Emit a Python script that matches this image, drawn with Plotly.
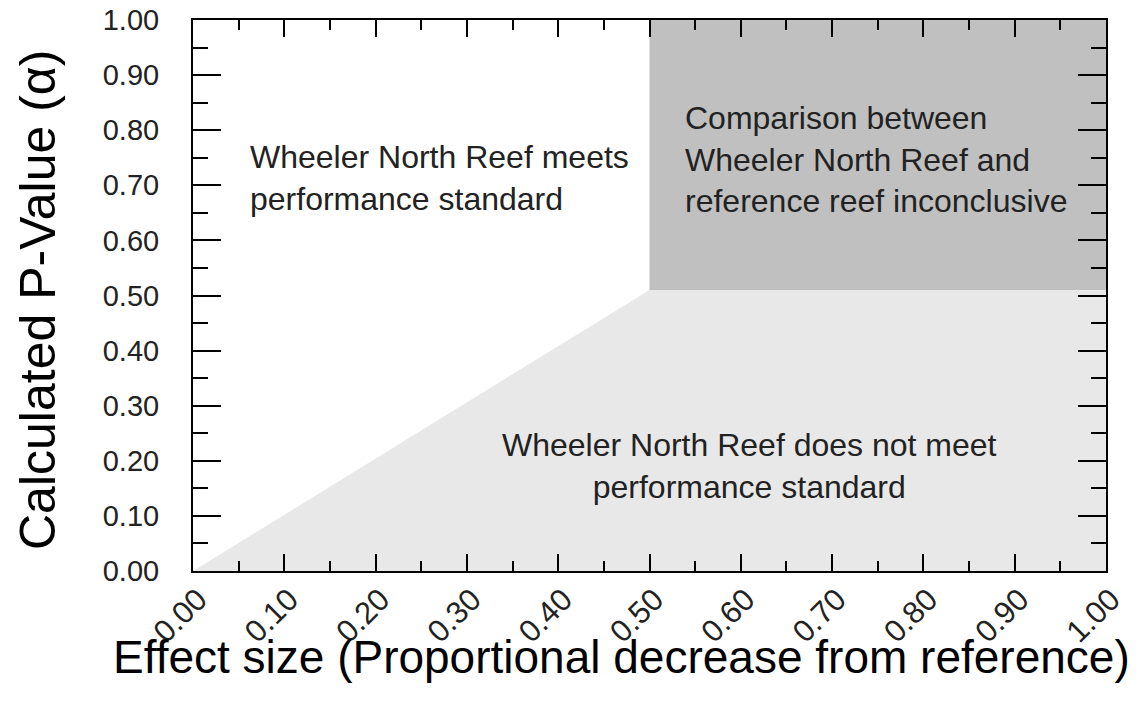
import plotly.graph_objects as go

# Region boundaries (effect size x, p-value y)
light_x = [0.0, 0.5, 1.0, 1.0, 0.0]
light_y = [0.0, 0.51, 0.51, 0.0, 0.0]
dark_x = [0.5, 1.0, 1.0, 0.5, 0.5]
dark_y = [0.51, 0.51, 1.0, 1.0, 0.51]

tick_vals = [0.0, 0.1, 0.2, 0.3, 0.4, 0.5, 0.6, 0.7, 0.8, 0.9, 1.0]
tick_text = ["0.00", "0.10", "0.20", "0.30", "0.40", "0.50", "0.60", "0.70", "0.80", "0.90", "1.00"]

labels = [
    "Wheeler North Reef meets<br>performance standard",
    "Comparison between<br>Wheeler North Reef and<br>reference reef inconclusive",
    "Wheeler North Reef does not meet<br>performance standard",
]
label_x = [0.06, 0.537, 0.61]
label_y = [0.713, 0.746, 0.19]

x_title = "Effect size (Proportional decrease from reference)"
y_title = "Calculated P-Value (α)"

FONT = "Liberation Sans, Arial, sans-serif"
L, R, T, B, W, H = 193, 39, 20, 136, 1145, 707
pw, ph = W - L - R, H - T - B

fig = go.Figure()
fig.add_trace(go.Scatter(x=light_x, y=light_y, fill="toself", fillcolor="#e8e8e8",
                         mode="lines", line=dict(width=0), hoverinfo="skip", showlegend=False))
fig.add_trace(go.Scatter(x=dark_x, y=dark_y, fill="toself", fillcolor="#c0c0c0",
                         mode="lines", line=dict(width=0), hoverinfo="skip", showlegend=False))

aligns = ["left", "left", "center"]
xanchors = ["left", "left", "center"]
for t, x, y, a, xa in zip(labels, label_x, label_y, aligns, xanchors):
    fig.add_annotation(x=x, y=y, xref="x", yref="y", text=t, showarrow=False,
                       align=a, xanchor=xa, yanchor="middle",
                       font=dict(family=FONT, size=32, color="#222222"))

# Axis titles as annotations (pixel centres converted to domain fractions)
fig.add_annotation(x=(621 - L) / pw, y=(H - B - 657) / ph, xref="x domain", yref="y domain",
                   text=x_title, showarrow=False, xanchor="center", yanchor="middle",
                   font=dict(family=FONT, size=46, color="black"))
fig.add_annotation(x=(38 - L) / pw, y=(H - B - 300) / ph, xref="x domain", yref="y domain",
                   text=y_title, showarrow=False, textangle=-90, xanchor="center", yanchor="middle",
                   font=dict(family=FONT, size=50, color="black"))

axis_common = dict(
    showgrid=False, zeroline=False, showline=True, linecolor="black", linewidth=2,
    mirror="ticks", ticks="inside", tickcolor="black", tickwidth=2,
    tickvals=tick_vals, ticktext=tick_text, range=[0, 1], automargin=False,
)

fig.update_xaxes(**axis_common, ticklen=17, tickangle=-45, ticklabelstandoff=-4, ticklabelshift=5,
                 tickfont=dict(family=FONT, size=31, color="#222222"),
                 minor=dict(ticks="inside", ticklen=10, tickwidth=2, tickcolor="black", dtick=0.05, tick0=0))
fig.update_yaxes(**axis_common, ticklen=28, ticklabelstandoff=26,
                 tickfont=dict(family=FONT, size=29, color="#222222"),
                 minor=dict(ticks="inside", ticklen=15, tickwidth=2, tickcolor="black", dtick=0.05, tick0=0))

fig.update_layout(
    width=W, height=H,
    margin=dict(l=L, r=R, t=T, b=B),
    plot_bgcolor="white", paper_bgcolor="white",
)

fig.write_html("out.html", config={"displayModeBar": False},
               post_script="document.body.style.margin='0';document.body.style.padding='0';")
